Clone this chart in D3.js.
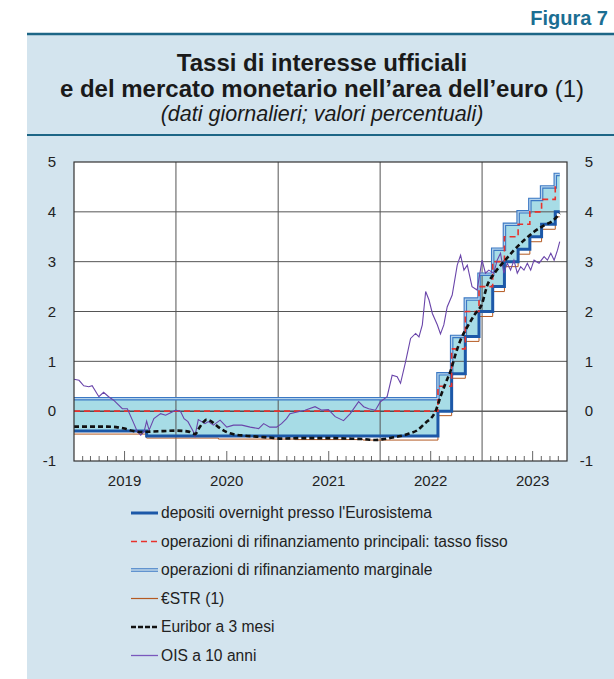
<!DOCTYPE html>
<html>
<head>
<meta charset="utf-8">
<script src="https://cdn.jsdelivr.net/npm/d3@7.9.0/dist/d3.min.js"></script>
<style>
  body { margin: 0; background: #fff; }
  svg { display: block; font-family: "Liberation Sans", Arial, sans-serif; }
</style>
</head>
<body>
<svg id="chart" width="614" height="679"></svg>
<script>
// official rates: change dates and levels
const policyDates = ['2019-01-01','2019-09-18','2022-07-27','2022-09-14','2022-11-02','2022-12-21','2023-02-08','2023-03-22','2023-05-10','2023-06-21','2023-08-02','2023-09-20'];
const depositRate = [-0.40, -0.50, 0.00, 0.75, 1.50, 2.00, 2.50, 3.00, 3.25, 3.50, 3.75, 4.00];
const mroRate     = [0.00, 0.00, 0.50, 1.25, 2.00, 2.50, 3.00, 3.50, 3.75, 4.00, 4.25, 4.50];
const mlfRate     = [0.25, 0.25, 0.75, 1.50, 2.25, 2.75, 3.25, 3.75, 4.00, 4.25, 4.50, 4.75];
const lastDate = '2023-10-06';

// €STR (pre-€STR before Oct 2019)
const estrDates  = ['2019-01-01','2019-09-18','2020-06-01','2021-03-01','2021-11-01','2022-07-27','2022-09-14','2022-11-02','2022-12-21','2023-02-08','2023-03-22','2023-05-10','2023-06-21','2023-08-02','2023-09-20'];
const estrValues = [-0.46, -0.54, -0.56, -0.57, -0.58, -0.09, 0.66, 1.40, 1.90, 2.40, 2.90, 3.15, 3.40, 3.65, 3.90];

// Euribor 3 months
const euriborDates = ['2019-01-01','2019-03-01','2019-05-01','2019-06-01','2019-07-01','2019-08-01','2019-09-01','2019-10-01','2019-11-15','2020-01-01','2020-02-15','2020-03-10','2020-03-25','2020-04-08','2020-04-20','2020-05-10','2020-06-01','2020-07-01','2020-08-01','2020-09-01','2020-10-15','2020-12-01','2021-01-15','2021-04-01','2021-07-01','2021-09-01','2021-11-01','2021-12-15','2022-01-15','2022-02-15','2022-03-15','2022-04-15','2022-05-15','2022-06-15','2022-07-01','2022-07-20','2022-08-05','2022-08-23','2022-09-11','2022-09-29','2022-10-16','2022-11-09','2022-12-08','2023-01-01','2023-01-18','2023-02-16','2023-03-20','2023-04-25','2023-05-31','2023-07-06','2023-08-11','2023-09-11','2023-10-06'];
const euriborValues = [-0.31,-0.31,-0.31,-0.32,-0.35,-0.40,-0.42,-0.41,-0.40,-0.39,-0.41,-0.46,-0.33,-0.22,-0.17,-0.22,-0.32,-0.42,-0.47,-0.49,-0.51,-0.53,-0.55,-0.54,-0.54,-0.55,-0.56,-0.58,-0.56,-0.53,-0.50,-0.45,-0.38,-0.22,-0.15,0.02,0.29,0.56,0.82,1.16,1.43,1.69,1.96,2.16,2.50,2.78,3.00,3.23,3.43,3.60,3.73,3.82,3.97];

// OIS 10 years
const oisDates = ['2019-01-01','2019-01-19','2019-02-05','2019-02-23','2019-03-07','2019-03-31','2019-04-17','2019-05-05','2019-05-23','2019-06-23','2019-07-11','2019-07-29','2019-08-16','2019-08-28','2019-09-09','2019-09-18','2019-09-27','2019-10-14','2019-11-07','2019-11-25','2019-12-13','2019-12-31','2020-01-18','2020-01-30','2020-02-13','2020-03-03','2020-03-09','2020-03-21','2020-04-02','2020-04-14','2020-04-26','2020-05-14','2020-06-07','2020-07-01','2020-07-25','2020-08-24','2020-09-23','2020-10-23','2020-11-10','2020-12-02','2020-12-26','2021-01-13','2021-01-31','2021-02-12','2021-03-14','2021-04-07','2021-05-13','2021-06-06','2021-06-30','2021-07-24','2021-08-23','2021-09-16','2021-10-16','2021-11-03','2021-11-21','2021-12-15','2022-01-02','2022-01-26','2022-02-13','2022-03-03','2022-03-15','2022-04-02','2022-04-20','2022-05-08','2022-05-20','2022-06-01','2022-06-13','2022-06-25','2022-07-07','2022-07-25','2022-08-05','2022-08-17','2022-08-29','2022-09-16','2022-10-04','2022-10-16','2022-10-28','2022-11-09','2022-11-26','2022-12-14','2023-01-01','2023-01-13','2023-01-25','2023-02-12','2023-02-24','2023-03-08','2023-03-20','2023-04-01','2023-04-13','2023-04-25','2023-05-07','2023-05-19','2023-05-31','2023-06-12','2023-06-24','2023-07-06','2023-07-24','2023-08-11','2023-08-23','2023-09-04','2023-09-16','2023-09-28','2023-10-06'];
const oisValues = [0.64,0.62,0.51,0.49,0.51,0.29,0.38,0.29,0.22,0.05,0.05,-0.18,-0.41,-0.48,-0.41,-0.20,-0.38,-0.15,-0.05,-0.08,-0.03,0.02,-0.01,-0.15,-0.21,-0.41,-0.50,-0.17,-0.21,-0.25,-0.21,-0.28,-0.18,-0.32,-0.28,-0.28,-0.32,-0.35,-0.25,-0.32,-0.32,-0.25,-0.15,-0.05,-0.01,0.02,0.09,0.02,0.03,-0.11,-0.19,-0.05,0.19,0.09,0.05,0.02,0.19,0.29,0.72,0.69,0.56,0.99,1.46,1.56,1.49,1.73,2.40,2.23,1.96,1.73,1.55,1.73,2.09,2.33,2.93,3.13,2.83,2.93,2.50,2.43,3.03,2.77,2.83,2.77,3.03,3.17,2.77,2.97,2.83,3.03,2.77,2.90,2.83,2.97,2.83,3.03,2.97,3.10,3.03,3.17,3.03,3.23,3.40];

const yTicks = [-1, 0, 1, 2, 3, 4, 5];
const yearLabels = ['2019', '2020', '2021', '2022', '2023'];

const legendItems = [
  { key: 'dfr', label: "depositi overnight presso l'Eurosistema" },
  { key: 'mro', label: 'operazioni di rifinanziamento principali: tasso fisso' },
  { key: 'mlf', label: 'operazioni di rifinanziamento marginale' },
  { key: 'estr', label: '€STR (1)' },
  { key: 'euribor', label: 'Euribor a 3 mesi' },
  { key: 'ois', label: 'OIS a 10 anni' }
];

const parse = d3.timeParse('%Y-%m-%d');
const zip = (dates, vals) => dates.map((d, i) => ({ date: parse(d), value: vals[i] }));
// step series are closed at the last observation date
const stepSeries = (vals) => {
  const s = zip(policyDates, vals);
  s.push({ date: parse(lastDate), value: vals[vals.length - 1] });
  return s;
};

const dfr = stepSeries(depositRate);
const mro = stepSeries(mroRate);
const mlf = stepSeries(mlfRate);
const estr = zip(estrDates, estrValues);
estr.push({ date: parse(lastDate), value: estrValues[estrValues.length - 1] });
const euribor = zip(euriborDates, euriborValues);
const ois = zip(oisDates, oisValues);
const band = dfr.map((d, i) => ({ date: d.date, lo: d.value, hi: mlf[i].value }));

const colors = {
  dfr: '#1c58a8', mro: '#e8322c', mlfOuter: '#3b78c4', mlfInner: '#b4d3ec',
  band: '#a7dce6', estr: '#b45a22', euribor: '#111', ois: '#6a45aa'
};

const svg = d3.select('#chart');
const W = 614;

// background panel and title box
svg.append('rect').attr('x', 27).attr('y', 34).attr('width', W - 27).attr('height', 679 - 34).attr('fill', '#d3e4ee');
svg.append('line').attr('x1', 27).attr('x2', W).attr('y1', 34).attr('y2', 34).attr('stroke', '#1d6686').attr('stroke-width', 2.5);
svg.append('line').attr('x1', 27).attr('x2', W).attr('y1', 135).attr('y2', 135).attr('stroke', '#1d6686').attr('stroke-width', 2);

svg.append('text').attr('x', 608).attr('y', 25).attr('text-anchor', 'end')
  .attr('font-size', 20).attr('font-weight', 'bold').attr('fill', '#1b6e92').text('Figura 7');

const cx = 322;
svg.append('text').attr('x', cx).attr('y', 71).attr('text-anchor', 'middle')
  .attr('font-size', 24).attr('font-weight', 'bold').attr('fill', '#1a1a1a').text('Tassi di interesse ufficiali');
const t2 = svg.append('text').attr('x', cx).attr('y', 97).attr('text-anchor', 'middle')
  .attr('font-size', 24).attr('fill', '#1a1a1a');
t2.append('tspan').attr('font-weight', 'bold').text('e del mercato monetario nell\u2019area dell\u2019euro');
t2.append('tspan').text(' (1)');
svg.append('text').attr('x', cx).attr('y', 121).attr('text-anchor', 'middle')
  .attr('font-size', 21.5).attr('font-style', 'italic').attr('fill', '#1a1a1a').text('(dati giornalieri; valori percentuali)');

// plot area
const plot = { left: 74, right: 567, top: 162, bottom: 461 };
const x = d3.scaleTime().domain([parse('2019-01-01'), parse('2023-11-01')]).range([plot.left, plot.right]);
const y = d3.scaleLinear().domain([-1, 5]).range([plot.bottom, plot.top]);

svg.append('rect').attr('x', plot.left).attr('y', plot.top)
  .attr('width', plot.right - plot.left).attr('height', plot.bottom - plot.top).attr('fill', '#fff');

// corridor between deposit facility and marginal lending
svg.append('path').datum(band)
  .attr('fill', colors.band)
  .attr('d', d3.area().curve(d3.curveStepAfter).x(d => x(d.date)).y0(d => y(d.lo)).y1(d => y(d.hi)));

// grid
svg.append('g').selectAll('line').data(yTicks.slice(1, -1)).join('line')
  .attr('x1', plot.left).attr('x2', plot.right)
  .attr('y1', d => y(d)).attr('y2', d => y(d))
  .attr('stroke', d => d === 0 ? '#111' : '#555').attr('stroke-width', 1);
svg.append('g').selectAll('line').data(yearLabels.slice(1)).join('line')
  .attr('x1', d => x(parse(d + '-01-01'))).attr('x2', d => x(parse(d + '-01-01')))
  .attr('y1', plot.top).attr('y2', plot.bottom)
  .attr('stroke', '#555').attr('stroke-width', 1);

// monthly ticks on the bottom axis, longer at mid-year
const months = d3.timeMonth.range(parse('2019-02-01'), parse('2023-11-01'));
svg.append('g').selectAll('line').data(months.filter(m => m.getMonth() !== 0)).join('line')
  .attr('x1', d => x(d)).attr('x2', d => x(d))
  .attr('y1', plot.bottom).attr('y2', d => plot.bottom - (d.getMonth() === 6 ? 10 : 5))
  .attr('stroke', '#666').attr('stroke-width', 1);

const line = d3.line().x(d => x(d.date)).y(d => y(d.value));
const stepLine = d3.line().curve(d3.curveStepAfter).x(d => x(d.date)).y(d => y(d.value));

svg.append('path').datum(mlf).attr('fill', 'none').attr('stroke', colors.mlfOuter).attr('stroke-width', 3.5).attr('d', stepLine);
svg.append('path').datum(mlf).attr('fill', 'none').attr('stroke', colors.mlfInner).attr('stroke-width', 1.3).attr('d', stepLine);
svg.append('path').datum(estr).attr('fill', 'none').attr('stroke', colors.estr).attr('stroke-width', 1).attr('d', stepLine);
svg.append('path').datum(dfr).attr('fill', 'none').attr('stroke', colors.dfr).attr('stroke-width', 3).attr('d', stepLine);
svg.append('path').datum(mro).attr('fill', 'none').attr('stroke', colors.mro).attr('stroke-width', 1.6)
  .attr('stroke-dasharray', '6,4').attr('d', stepLine);
svg.append('path').datum(ois).attr('fill', 'none').attr('stroke', colors.ois).attr('stroke-width', 1.1).attr('d', line);
svg.append('path').datum(euribor).attr('fill', 'none').attr('stroke', colors.euribor).attr('stroke-width', 2.6)
  .attr('stroke-dasharray', '5,3').attr('d', line.curve(d3.curveMonotoneX));

// frame
svg.append('rect').attr('x', plot.left).attr('y', plot.top)
  .attr('width', plot.right - plot.left).attr('height', plot.bottom - plot.top)
  .attr('fill', 'none').attr('stroke', '#333').attr('stroke-width', 1.2);

// axis labels
const axisFont = 15;
svg.append('g').selectAll('text').data(yTicks).join('text')
  .attr('x', 56).attr('y', d => y(d)).attr('dy', '0.35em').attr('text-anchor', 'end')
  .attr('font-size', axisFont).attr('fill', '#222').text(d => d);
svg.append('g').selectAll('text').data(yTicks).join('text')
  .attr('x', 593).attr('y', d => y(d)).attr('dy', '0.35em').attr('text-anchor', 'end')
  .attr('font-size', axisFont).attr('fill', '#222').text(d => d);
svg.append('g').selectAll('text').data(yearLabels).join('text')
  .attr('x', d => x(parse(d + '-07-01'))).attr('y', 486).attr('text-anchor', 'middle')
  .attr('font-size', axisFont).attr('fill', '#222').text(d => d);

// legend
const lg = svg.append('g');
legendItems.forEach((item, i) => {
  const ly = 513 + i * 28.5;
  const g = lg.append('g');
  const seg = () => g.append('line').attr('x1', 131).attr('x2', 158).attr('y1', ly).attr('y2', ly).attr('fill', 'none');
  if (item.key === 'dfr') seg().attr('stroke', colors.dfr).attr('stroke-width', 3);
  if (item.key === 'mro') seg().attr('stroke', colors.mro).attr('stroke-width', 1.3).attr('stroke-dasharray', '6,4');
  if (item.key === 'mlf') {
    seg().attr('stroke', colors.mlfOuter).attr('stroke-width', 3.5);
    seg().attr('stroke', '#d3e4ee').attr('stroke-width', 1.4);
  }
  if (item.key === 'estr') seg().attr('stroke', colors.estr).attr('stroke-width', 1.2);
  if (item.key === 'euribor') seg().attr('stroke', colors.euribor).attr('stroke-width', 2.6).attr('stroke-dasharray', '5,2');
  if (item.key === 'ois') seg().attr('stroke', '#7a58bd').attr('stroke-width', 1.3);
  g.append('text').attr('x', 161).attr('y', ly).attr('dy', '0.35em')
    .attr('font-size', 15.6).attr('fill', '#222').text(item.label);
});
</script>
</body>
</html>
